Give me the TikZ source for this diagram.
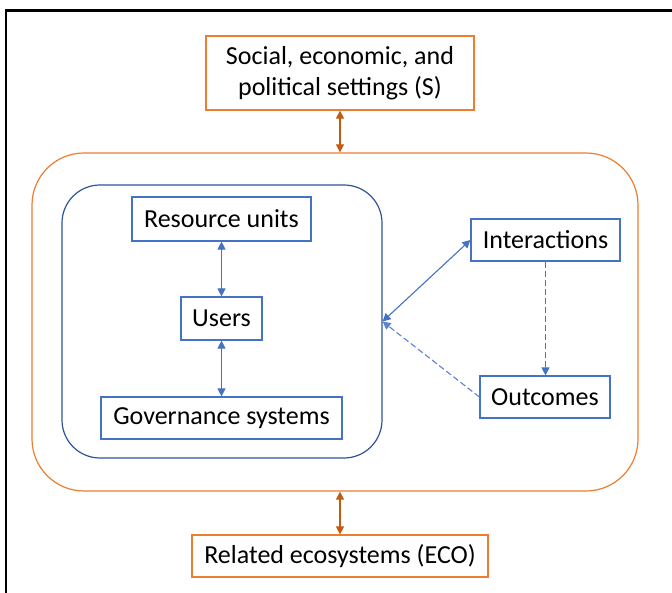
\documentclass[tikz,border=0pt]{standalone}
\usepackage{fontspec}
\setmainfont{Carlito}
\usetikzlibrary{arrows.meta}
\definecolor{orA}{HTML}{ED7D31}
\definecolor{orD}{HTML}{C55A11}
\definecolor{blA}{HTML}{4472C4}
\definecolor{blL}{HTML}{5B84CC}
\definecolor{blD}{HTML}{2F5597}
\begin{document}
\begin{tikzpicture}[x=1pt,y=-1pt,
  every node/.style={font=\fontsize{26}{31}\selectfont, inner sep=0pt, align=center},
  obox/.style={draw=orA, line width=1.2pt},
  bbox/.style={draw=blA, line width=1.2pt},
  oarr/.style={draw=orD, line width=1.1pt, {Triangle[width=8pt,length=8pt]}-{Triangle[width=8pt,length=8pt]}},
  barr/.style={draw=blA, line width=1.1pt, {Triangle[width=8pt,length=8pt]}-{Triangle[width=8pt,length=8pt]}},
  darr/.style={draw=blA, line width=1.1pt, dash pattern=on 6pt off 3pt, -{Triangle[width=8pt,length=8pt]}}
]
\useasboundingbox (0,0) rectangle (672,593);
\fill[white] (0,0) rectangle (672,593);
\draw[black, line width=2.4pt] (6.2,593) -- (6.2,10.5) -- (672,10.5);

\node[draw=orA, line width=1.2pt, rounded corners=52pt, minimum width=606pt, minimum height=338pt] (outer) at (335,322) {};
\node[draw=blD, line width=1.2pt, rounded corners=38pt, minimum width=320pt, minimum height=273pt] (inner) at (222,321.5) {};

\node[obox, minimum width=268pt, minimum height=74pt] (S) at (340,73) {Social, economic, and\\political settings (S)};
\node[obox, minimum width=296pt, minimum height=42pt] (ECO) at (340,556) {Related ecosystems (ECO)};

\node[bbox, minimum width=179pt, minimum height=44pt] (RU) at (221.5,219) {Resource units};
\node[bbox, minimum width=81pt, minimum height=43pt] (U) at (221.5,318.5) {Users};
\node[bbox, minimum width=241pt, minimum height=42pt] (GS) at (221.5,418) {Governance systems};
\node[bbox, minimum width=149pt, minimum height=42pt] (I) at (545.5,240) {Interactions};
\node[bbox, minimum width=130pt, minimum height=42pt] (O) at (545,397) {Outcomes};

\draw[oarr] (S.south) -- (S.south |- outer.north);
\draw[oarr] (ECO.north |- outer.south) -- (ECO.north);
\draw[barr] (RU.south) -- (U.north);
\draw[barr] (U.south) -- (GS.north);
\draw[barr] (inner.east) -- (I.west);
\draw[darr] (I.south) -- (O.north -| I.south);
\draw[darr, draw=blL] (O.west) -- (inner.east);
\end{tikzpicture}
\end{document}
